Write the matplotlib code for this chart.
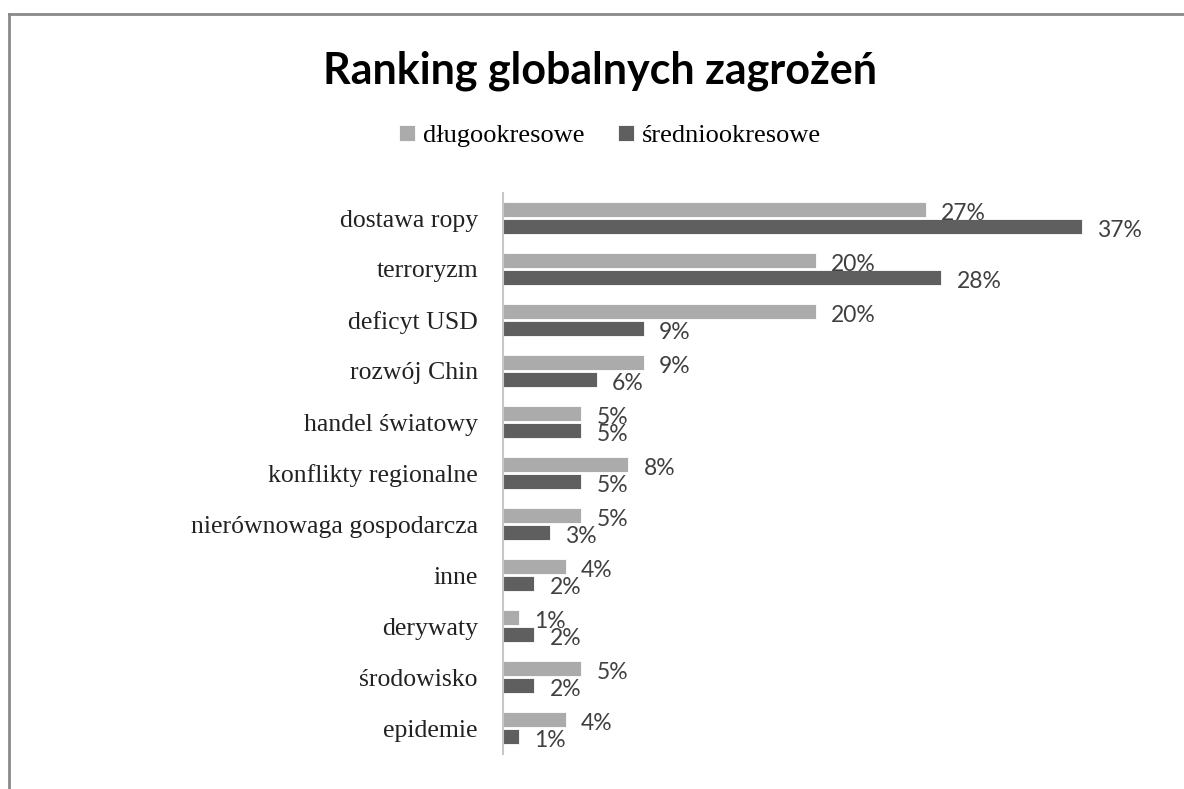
import numpy as np
import matplotlib
matplotlib.use('Agg')
from matplotlib import pyplot as plt
from matplotlib.lines import Line2D

# data (percent)
categories = ['dostawa ropy', 'terroryzm', 'deficyt USD', 'rozwój Chin',
              'handel światowy', 'konflikty regionalne',
              'nierównowaga gospodarcza', 'inne', 'derywaty',
              'środowisko', 'epidemie']
dlugo = [27, 20, 20, 9, 5, 8, 5, 4, 1, 5, 4]
srednio = [37, 28, 9, 6, 5, 5, 3, 2, 2, 2, 1]
series_names = ['długookresowe', 'średniookresowe']

light = '#ababab'
dark = '#5f5f5f'
label_col = '#404040'

W, H = 1184, 789
fig = plt.figure(figsize=(W / 100, H / 100), dpi=100)

# frame of the original chart area (only left and top visible)
fig.add_artist(Line2D([9 / W, 9 / W], [0, 1 - 14 / H], color='#8a8a8a', lw=2))
fig.add_artist(Line2D([9 / W, 1], [1 - 14 / H, 1 - 14 / H], color='#8a8a8a', lw=2))

ax = fig.add_axes([503 / W, 1 - 753.5 / H, 626 / W, (753.5 - 192.5) / H])

y = np.arange(len(categories))
off = 0.165
h = 0.29
b1 = ax.barh(y - off, dlugo, height=h, color=light, edgecolor='white', linewidth=0.6)
b2 = ax.barh(y + off, srednio, height=h, color=dark, edgecolor='white', linewidth=0.6)

for bars, vals in ((b1, dlugo), (b2, srednio)):
    for rect, v in zip(bars, vals):
        ax.annotate(f'{v}%', (rect.get_width(), rect.get_y() + rect.get_height() / 2 + 0.08),
                    xytext=(11, 0), textcoords='offset points', ha='left', va='center',
                    fontsize=16.5, family='Lato', color=label_col)

ax.set_xlim(0, 40)
ax.set_ylim(len(categories) - 0.5, -0.5)
ax.set_yticks(y)
ax.set_yticklabels(categories, family='Liberation Serif', fontsize=18.5, color='#222222')
ax.tick_params(axis='y', length=0, pad=18)
ax.set_xticks([])
for s in ['top', 'right', 'bottom']:
    ax.spines[s].set_visible(False)
ax.spines['left'].set_color('#c8c8c8')
ax.spines['left'].set_linewidth(1.5)

fig.text(600 / W, 1 - 71 / H, 'Ranking globalnych zagrożeń', ha='center', va='center',
         family='Lato', fontweight='bold', fontsize=31, color='black')

fig.legend([b1, b2], series_names, loc='center', bbox_to_anchor=(610 / W, 1 - 136 / H),
           ncol=2, frameon=False, handlelength=0.6, handleheight=0.6, handletextpad=0.3,
           columnspacing=1.3, prop={'family': 'Liberation Serif', 'size': 19})

fig.savefig('out.png', dpi=100)
